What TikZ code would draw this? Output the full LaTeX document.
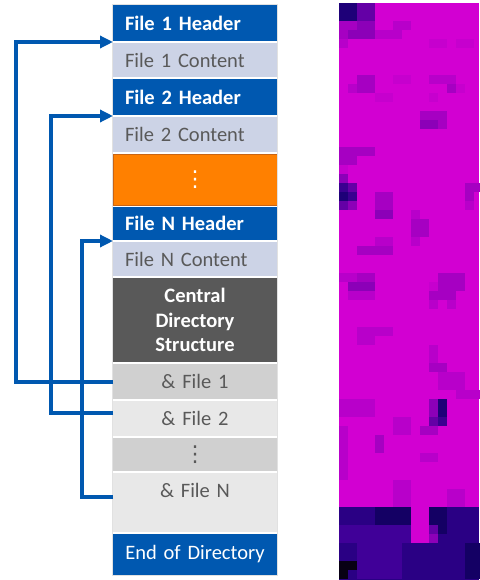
\documentclass[tikz,border=0pt]{standalone}
\usepackage{fontspec}
\setmainfont{Carlito}
\newfontfamily\symfont{DejaVu Sans}
\usetikzlibrary{positioning,calc,arrows.meta}

\definecolor{hdrblue}{RGB}{0,88,176}
\definecolor{contentbg}{RGB}{204,211,230}
\definecolor{txtgray}{RGB}{89,89,89}
\definecolor{cdgray}{RGB}{89,89,89}
\definecolor{dirdark}{RGB}{208,208,208}
\definecolor{dirlight}{RGB}{232,232,232}
\definecolor{orng}{RGB}{255,128,0}
\definecolor{orngdark}{RGB}{200,100,20}
\definecolor{framegray}{RGB}{225,225,225}
% pixel colours
\definecolor{mag}{RGB}{210,0,210}
\definecolor{m1}{RGB}{198,0,206}
\definecolor{m2}{RGB}{184,0,202}
\definecolor{m3}{RGB}{166,0,194}
\definecolor{m4}{RGB}{140,0,184}
\definecolor{m5}{RGB}{100,0,166}
\definecolor{m6}{RGB}{58,0,144}
\definecolor{m7}{RGB}{30,0,120}
\definecolor{band}{RGB}{42,0,132}
\definecolor{bd}{RGB}{20,0,100}
\definecolor{bl}{RGB}{64,0,152}
\definecolor{blk}{RGB}{8,0,20}

\newcommand\tallvdots{{\symfont\fontsize{22}{22}\selectfont ⋮}}

\begin{document}
\begin{tikzpicture}[
    x=1pt, y=-1pt, % pixel coordinates
    > = {Triangle[length=13pt,width=12pt]}, % arrow head style
    node distance=2pt,
    box/.style={minimum width=164pt, text width=140pt, inner xsep=12pt, inner ysep=0pt,
        outer sep=0pt, font=\fontsize{20.5}{24.5}\selectfont},
    header/.style={box, fill=hdrblue, text=white, align=left,
        font=\fontsize{20.5}{24.5}\selectfont\bfseries},
    content/.style={box, fill=contentbg, text=txtgray, align=left},
    dirent/.style={box, text=txtgray, align=center},
    link/.style={draw=hdrblue, line width=4pt, ->},
]
\useasboundingbox (0,0) rectangle (479,580);

% file layout
\node[header, minimum height=36pt, anchor=north] (h1) at (195,5) {File 1 Header};
\node[content, minimum height=34pt, below=of h1] (c1) {File 1 Content};
\node[header, minimum height=36pt, below=of c1] (h2) {File 2 Header};
\node[content, minimum height=35pt, below=of h2] (c2) {File 2 Content};
\node[box, minimum height=51pt, fill=orng, draw=orngdark, line width=.8pt, text=white,
    align=center, below=of c2] (more) {\tallvdots};
\node[header, minimum height=33pt, below=of more] (hN) {File N Header};
\node[content, minimum height=34pt, below=of hN] (cN) {File N Content};
\node[box, minimum height=84pt, fill=cdgray, text=white, align=center,
    font=\fontsize{20.5}{24.5}\selectfont\bfseries, below=of cN] (cds) {Central\\Directory\\Structure};
\node[dirent, minimum height=35pt, fill=dirdark, below=of cds] (a1) {\& File 1};
\node[dirent, minimum height=35pt, fill=dirlight, below=of a1] (a2) {\& File 2};
\node[dirent, minimum height=33pt, fill=dirdark, below=of a2] (adots) {\tallvdots};
\node[dirent, text height=24pt, text depth=35pt, fill=dirlight, below=of adots] (aN) {\& File N};
\node[box, minimum height=41pt, fill=hdrblue, text=white, align=center, below=of aN] (eod) {End of Directory};

\draw[framegray, line width=.6pt] ([xshift=-.6pt,yshift=.6pt]h1.north west)
    rectangle ([xshift=.6pt,yshift=-.6pt]eod.south east);

% pointers from the directory back to the headers
\coordinate (t1) at ($(h1.south west)!.5!(c1.north west)$);
\coordinate (t2) at ($(h2.south west)!.5!(c2.north west)$);
\coordinate (t3) at ($(hN.south west)!.5!(cN.north west)$);
\draw[link] (a1.west) -- ++(-97,0) |- (t1);
\draw[link] ([yshift=6pt]a2.west) -- ++(-62,0) |- (t2);
\draw[link] (aN.base west) -- ++(-31,0) |- (t3);

% byte picture of the file
\fill[mag] (339,3) rectangle (479,580);
\foreach \c/\r/\w/\h/\k in {
    0/0/2/2/m7, 2/0/2/2/m5, 0/2/2/2/m3, 1/3/1/1/m4, 2/2/2/2/m4, 4/3/3/1/m2, 6/2/2/1/m2,
    0/4/1/1/m2, 10/4/2/1/m1, 13/4/2/1/m1,
    1/9/1/1/m2, 2/8/2/2/m3, 6/8/2/1/m1, 10/8/3/1/m2, 12/9/1/1/m3, 13/9/1/1/m1,
    4/10/2/1/m1, 10/10/1/1/m1, 9/12/3/2/m3, 9/13/2/1/m4,
    0/16/4/1/m3, 0/17/2/1/m3, 0/18/1/1/m1, 0/19/1/1/m4, 0/20/1/1/m6, 1/20/1/1/m5,
    14/20/2/1/m3, 0/21/1/1/m7, 1/21/1/1/m6, 0/22/1/1/m5, 1/22/1/1/m4,
    4/21/2/2/m3, 4/23/2/1/m4, 14/21/1/1/m3, 14/22/1/1/m2, 8/23/1/1/m2, 8/24/2/2/m3,
    2/27/4/1/m3, 4/26/2/1/m2, 8/26/1/1/m2,
    0/30/2/1/m2, 1/31/3/1/m4, 2/30/2/1/m3, 11/30/3/2/m3, 10/31/1/1/m1,
    1/32/3/1/m2, 10/32/3/1/m3, 10/33/1/1/m2, 12/33/1/1/m2,
    2/36/4/1/m2, 2/37/2/1/m2, 10/38/1/2/m2, 10/40/2/1/m3, 11/41/3/2/m2, 13/43/3/1/m2,
    0/44/4/2/m2, 10/44/1/1/m4, 11/44/1/2/m7, 10/45/1/1/m4, 10/46/1/1/m5, 11/46/1/1/m6,
    9/47/2/1/m3, 6/46/2/2/m2, 0/47/1/6/m2, 4/48/1/2/m3, 9/50/2/1/m2,
    6/53/2/3/m2, 12/54/2/2/m2}
    \fill[\k] (339+9*\c,3+9*\r) rectangle ++(9*\w,9*\h);
\fill[band] (339,507) rectangle (479,580);
\foreach \c/\r/\w/\h/\k in {
    4/56/4/2/bd, 10/56/2/3/bd, 0/58/8/2/bl, 2/60/5/4/bl, 14/60/2/4/bd,
    8/56/2/4/mag, 10/59/1/1/m4, 10/58/1/1/m5, 0/62/1/2/blk, 1/62/1/1/blk}
    \fill[\k] (339+9*\c,3+9*\r) rectangle ++(9*\w,9*\h);
\end{tikzpicture}
\end{document}
